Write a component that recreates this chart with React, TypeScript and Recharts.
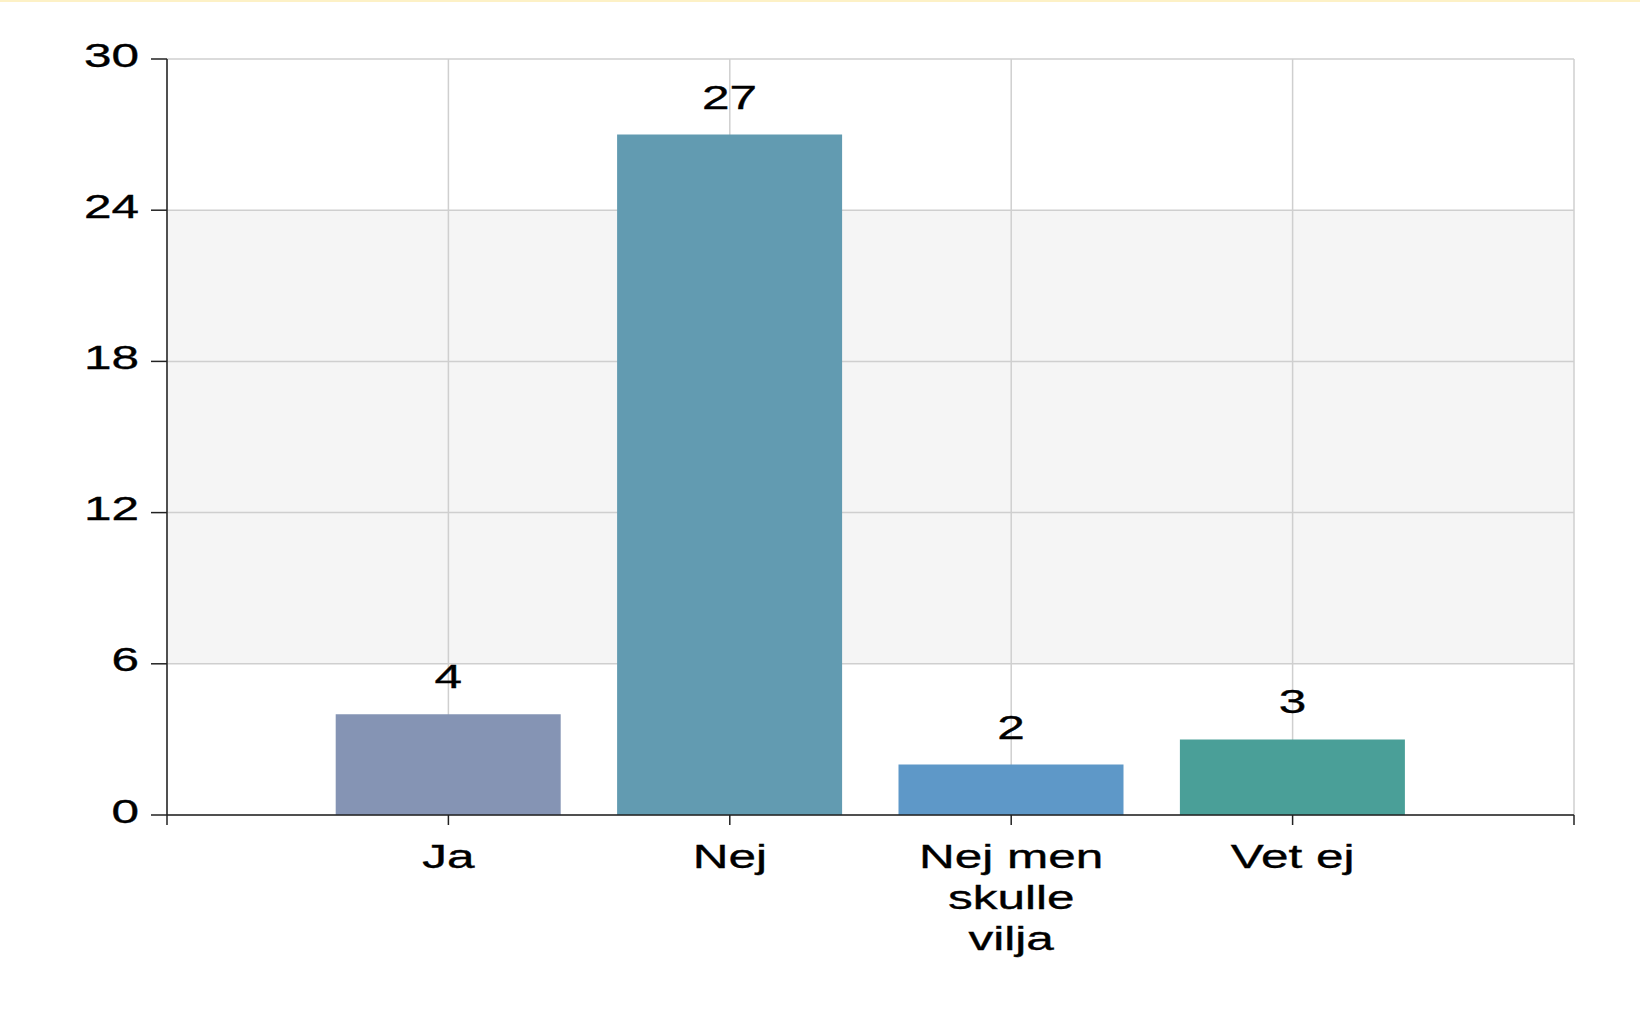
import { BarChart, Bar, XAxis, YAxis, CartesianGrid, Cell, LabelList } from "recharts";

const categories = ["Ja", "Nej", "Nej men skulle vilja", "Vet ej"];
const counts = [4, 27, 2, 3];
const barColors = ["#8594b4", "#629bb1", "#5e98c8", "#4a9f98"];
const yTicks = [0, 6, 12, 18, 24, 30];

const data = categories.map((name, i) => ({ pos: i + 1, name, count: counts[i] }));
const xTicks = [0, ...data.map((d) => d.pos), categories.length + 1];

const FONT = "'Liberation Sans', Arial, sans-serif";
const FONT_SIZE = 33;
// the reference text is drawn wide, so stretch it horizontally
const STRETCH = 1.5;

// greedy word wrap for the category labels
function wrap(label: string, maxChars: number) {
  const lines: string[] = [];
  let cur = "";
  for (const w of label.split(" ")) {
    if (cur && (cur + " " + w).length > maxChars) {
      lines.push(cur);
      cur = w;
    } else {
      cur = cur ? cur + " " + w : w;
    }
  }
  if (cur) lines.push(cur);
  return lines;
}

const textProps = {
  fontFamily: FONT,
  fontSize: FONT_SIZE,
  fill: "#000",
  stroke: "#000",
  strokeWidth: 0.35,
};

function XTick({ x, y, payload }: any) {
  const label = categories[payload.value - 1];
  if (!label) return null;
  const lines = wrap(label, 8);
  return (
    <g transform={`translate(${x},${y}) scale(${STRETCH},1)`}>
      <text textAnchor="middle" {...textProps}>
        {lines.map((l, i) => (
          <tspan key={i} x={0} y={43 + i * 41}>
            {l}
          </tspan>
        ))}
      </text>
    </g>
  );
}

function YTick({ x, y, payload }: any) {
  return (
    <g transform={`translate(${x},${y}) scale(${STRETCH},1)`}>
      <text x={0} y={7.5} textAnchor="end" {...textProps}>
        {payload.value}
      </text>
    </g>
  );
}

function ValueLabel({ x, y, width, value }: any) {
  const cx = Number(x) + Number(width) / 2;
  return (
    <g transform={`translate(${cx},${Number(y) - 26}) scale(${STRETCH},1)`}>
      <text x={0} y={0} textAnchor="middle" {...textProps}>
        {value}
      </text>
    </g>
  );
}

export default function App() {
  return (
    <div style={{ position: "absolute", left: 0, top: 0, width: 1640, height: 1016, background: "#fff" }}>
      <div style={{ position: "absolute", left: 0, top: 0, width: 1640, height: 2, background: "#fdf1c6" }} />
      <BarChart
        width={1640}
        height={1016}
        data={data}
        margin={{ top: 59, right: 66, bottom: 51, left: 0 }}
      >
        <CartesianGrid
          stroke="#cfcfcf"
          strokeWidth={1.5}
          horizontalFill={["#ffffff", "#f5f5f5", "#f5f5f5", "#f5f5f5", "#ffffff"]}
        />
        <XAxis
          type="number"
          dataKey="pos"
          domain={[0, categories.length + 1]}
          ticks={xTicks}
          interval={0}
          height={150}
          tickSize={10}
          tickMargin={0}
          axisLine={{ stroke: "#222", strokeWidth: 1.5 }}
          tickLine={{ stroke: "#222", strokeWidth: 1.5 }}
          tick={<XTick />}
        />
        <YAxis
          domain={[0, 30]}
          ticks={yTicks}
          interval={0}
          width={167}
          tickSize={16}
          tickMargin={12}
          axisLine={{ stroke: "#222", strokeWidth: 1.5 }}
          tickLine={{ stroke: "#222", strokeWidth: 1.5 }}
          tick={<YTick />}
        />
        <Bar dataKey="count" barSize={225} isAnimationActive={false}>
          {data.map((d, i) => (
            <Cell key={d.name} fill={barColors[i]} />
          ))}
          <LabelList dataKey="count" content={<ValueLabel />} />
        </Bar>
      </BarChart>
    </div>
  );
}
